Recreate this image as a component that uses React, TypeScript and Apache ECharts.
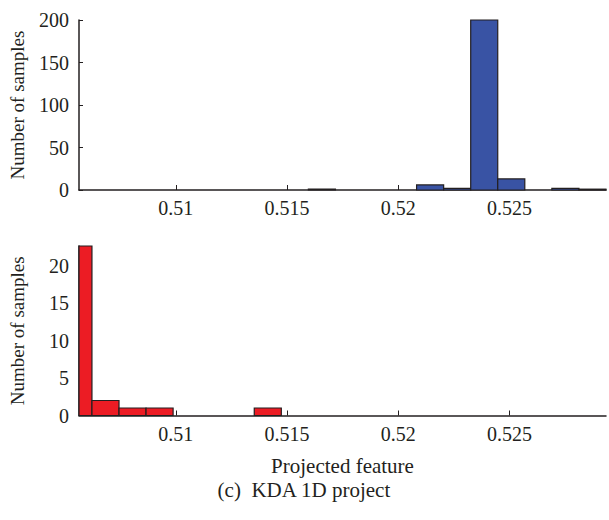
import React, { useEffect, useRef } from "react";
import * as echarts from "echarts";

// Histogram bin edges (Projected feature)
const binEdges = [
  0.505018, 0.506234, 0.50745, 0.508665, 0.509881, 0.511097, 0.512313,
  0.513528, 0.514744, 0.51596, 0.517176, 0.518392, 0.519607, 0.520823,
  0.522039, 0.523255, 0.52447, 0.525686, 0.526902, 0.528118, 0.529334,
];
// Counts per bin
const topCounts = [0, 0, 0, 0, 0, 0, 0, 0, 0, 1, 0, 0, 0, 6, 2, 200, 13, 0, 2, 1];
const bottomCounts = [22.6, 2, 1, 1, 0, 0, 0, 1, 0, 0, 0, 0, 0, 0, 0, 0, 0, 0, 0, 0];
// Tick labels
const xTicks = [0.51, 0.515, 0.52, 0.525];
const topYTicks = [0, 50, 100, 150, 200];
const bottomYTicks = [0, 5, 10, 15, 20];

const X_MIN = 0.505652;
const X_MAX = 0.529335;

const FONT = "'Liberation Serif', 'DejaVu Serif', serif";

function histData(counts: number[]) {
  const out: number[][] = [];
  counts.forEach((c, i) => {
    if (c > 0) out.push([binEdges[i], binEdges[i + 1], c]);
  });
  return out;
}

function makeRender(fill: string) {
  return (params: any, api: any) => {
    const x0 = api.value(0);
    const x1 = api.value(1);
    const y = api.value(2);
    const p0 = api.coord([x0, y]);
    const p1 = api.coord([x1, 0]);
    const cs = params.coordSys;
    const rect = echarts.graphic.clipRectByRect(
      { x: p0[0], y: p0[1], width: p1[0] - p0[0], height: p1[1] - p0[1] },
      { x: cs.x, y: cs.y - 2, width: cs.width, height: cs.height + 2 }
    );
    if (!rect) return null;
    return {
      type: "rect",
      shape: rect,
      style: { fill, stroke: "#231f20", lineWidth: 1.2 },
    };
  };
}

export default function App() {
  const ref = useRef<HTMLDivElement>(null);
  useEffect(() => {
    document.body.style.margin = "0";
    if (!ref.current) return;
    const chart = echarts.init(ref.current, undefined, { renderer: "svg" });
    const axisLine = { show: true, lineStyle: { color: "#231f20", width: 1.5 } };
    const labelStyle = { color: "#231f20", fontFamily: FONT, fontSize: 20 };
    const xAxisBase = (gridIndex: number, withName: boolean) => ({
      type: "value",
      gridIndex,
      min: X_MIN,
      max: X_MAX,
      axisLine,
      splitLine: { show: false },
      axisTick: {
        show: true,
        inside: true,
        length: 5,
        customValues: xTicks,
        lineStyle: { color: "#231f20", width: 1 },
      },
      axisLabel: {
        ...labelStyle,
        margin: 8,
        customValues: xTicks,
        formatter: (v: number) => String(parseFloat(v.toFixed(4))),
      },
      name: withName ? "Projected feature" : "",
      nameLocation: "middle",
      nameGap: 40,
      nameTextStyle: { color: "#231f20", fontFamily: FONT, fontSize: 21 },
    });
    const yAxisBase = (gridIndex: number, max: number, ticks: number[]) => ({
      type: "value",
      gridIndex,
      min: 0,
      max,
      axisLine,
      splitLine: { show: false },
      axisTick: {
        show: true,
        inside: true,
        length: 4,
        customValues: ticks,
        lineStyle: { color: "#231f20", width: 1 },
      },
      axisLabel: { ...labelStyle, margin: 10, customValues: ticks },
      name: "Number of samples",
      nameLocation: "middle",
      nameGap: 52,
      nameTextStyle: { color: "#231f20", fontFamily: FONT, fontSize: 19 },
    });
    chart.setOption({
      animation: false,
      backgroundColor: "#ffffff",
      grid: [
        { left: 78, right: 3, top: 20, height: 170 },
        { left: 78, right: 3, top: 246, height: 169.5 },
      ],
      xAxis: [xAxisBase(0, false), xAxisBase(1, true)],
      yAxis: [yAxisBase(0, 200, topYTicks), yAxisBase(1, 22.6, bottomYTicks)],
      series: [
        {
          type: "custom",
          xAxisIndex: 0,
          yAxisIndex: 0,
          renderItem: makeRender("#3953a4"),
          encode: { x: [0, 1], y: 2 },
          data: histData(topCounts),
        },
        {
          type: "custom",
          xAxisIndex: 1,
          yAxisIndex: 1,
          renderItem: makeRender("#ec1c24"),
          encode: { x: [0, 1], y: 2 },
          data: histData(bottomCounts),
        },
      ],
      graphic: [
        {
          type: "text",
          left: "center",
          top: 479,
          style: {
            text: "(c)  KDA 1D project",
            fill: "#231f20",
            font: `21px ${FONT}`,
          },
        },
      ],
    });
    return () => chart.dispose();
  }, []);
  return <div ref={ref} style={{ width: 609, height: 520 }} />;
}
